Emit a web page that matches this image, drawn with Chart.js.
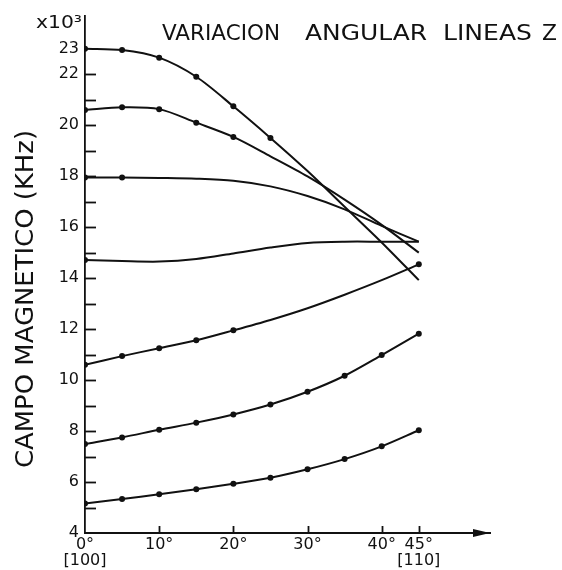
<!DOCTYPE html>
<html>
<head>
<meta charset="utf-8">
<script src="https://cdn.jsdelivr.net/npm/chart.js@4.4.1/dist/chart.umd.min.js"></script>
<style>
  html, body { margin: 0; padding: 0; background: #fff; }
  canvas { display: block; }
</style>
</head>
<body>
<canvas id="chart" width="562" height="570"></canvas>
<script>
// Rotation angle from [100] towards [110], degrees
const angles = [0, 5, 10, 15, 20, 25, 30, 35, 40, 45];

// Resonance field of each Z line (x10^3)
const line1 = [23.0, 22.95, 22.65, 21.9, 20.74, 19.5, 18.2, 16.8, 15.4, 13.92];
const line2 = [20.6, 20.7, 20.63, 20.1, 19.54, 18.78, 17.99, 17.08, 16.09, 15.0];
const line3 = [17.95, 17.95, 17.93, 17.9, 17.82, 17.6, 17.22, 16.7, 16.05, 15.43];
const line4 = [14.71, 14.67, 14.65, 14.75, 14.97, 15.2, 15.38, 15.43, 15.43, 15.43];
const line5 = [10.6, 10.94, 11.25, 11.56, 11.95, 12.36, 12.82, 13.35, 13.92, 14.54];
const line6 = [7.49, 7.75, 8.05, 8.33, 8.65, 9.04, 9.54, 10.17, 10.98, 11.82];
const line7 = [5.16, 5.33, 5.52, 5.72, 5.93, 6.17, 6.5, 6.9, 7.4, 8.03];

// Angles at which each line has a measured point
const measured1 = [0, 5, 10, 15, 20, 25];
const measured2 = [0, 5, 10, 15, 20];
const measured3 = [0, 5];
const measured4 = [0];
const measured5 = [0, 5, 10, 15, 20, 45];
const measured6 = [0, 5, 10, 15, 20, 25, 30, 35, 40, 45];
const measured7 = [0, 5, 10, 15, 20, 25, 30, 35, 40, 45];

// Axis ticks
const xTickValues = [0, 10, 20, 30, 40, 45];
const xTickLabels = [['0°', '[100]'], '10°', '20°', '30°', '40°', ['45°', '[110]']];
const yTickValues = [4, 6, 8, 10, 12, 14, 16, 18, 20, 22, 23];
const yMinorTicks = [5, 6, 7, 8, 9, 10, 11, 12, 13, 14, 15, 16, 17, 18, 19, 20, 21, 22];

const chartTitleWords = ['VARIACION', 'ANGULAR', 'LINEAS', 'Z'];
const yAxisTitle = 'CAMPO MAGNETICO (KHz)';
const multiplierLabel = 'x10³';

const INK = '#111';
const FONT = '"DejaVu Sans", "Liberation Sans", sans-serif';

const lines = [line1, line2, line3, line4, line5, line6, line7];
const measured = [measured1, measured2, measured3, measured4, measured5, measured6, measured7];

const datasets = lines.map((vals, i) => ({
  label: 'Z' + (i + 1),
  data: angles.map((a, k) => ({ x: a, y: vals[k] })),
  borderColor: INK,
  backgroundColor: INK,
  borderWidth: 2,
  tension: 0.3,
  pointRadius: ctx => measured[i].includes(angles[ctx.dataIndex]) ? 3 : 0,
  pointBorderWidth: 0,
  pointBackgroundColor: INK,
  fill: false
}));

// Text squeezed or stretched horizontally to span a given width
function fittedText(ctx, text, x, y, width, font) {
  ctx.save();
  ctx.font = font;
  const w = ctx.measureText(text).width;
  ctx.translate(x, y);
  ctx.scale(width / w, 1);
  ctx.textAlign = 'left';
  ctx.fillText(text, 0, 0);
  ctx.restore();
}

const decorations = {
  id: 'decorations',
  afterDraw(chart) {
    const { ctx, scales: { x, y } } = chart;
    ctx.save();
    ctx.strokeStyle = INK;
    ctx.fillStyle = INK;
    ctx.lineCap = 'butt';

    // inward tick marks on the field axis
    ctx.lineWidth = 1.8;
    yMinorTicks.forEach(v => {
      const py = Math.round(y.getPixelForValue(v)) + 0.5;
      ctx.beginPath();
      ctx.moveTo(x.left, py);
      ctx.lineTo(x.left + 11, py);
      ctx.stroke();
    });

    // upward tick marks on the angle axis
    xTickValues.slice(1).forEach(v => {
      const px = Math.round(x.getPixelForValue(v)) + 0.5;
      ctx.beginPath();
      ctx.moveTo(px, y.bottom);
      ctx.lineTo(px, y.bottom - 7);
      ctx.stroke();
    });

    // arrow head at the end of the angle axis
    const ax = x.right, ay = y.bottom;
    ctx.beginPath();
    ctx.moveTo(ax, ay);
    ctx.lineTo(ax - 17, ay - 4);
    ctx.lineTo(ax - 17, ay + 4);
    ctx.closePath();
    ctx.fill();

    // multiplier
    ctx.textBaseline = 'alphabetic';
    fittedText(ctx, multiplierLabel, 36, 28, 46, '17px ' + FONT);

    // chart title, word by word
    const spans = [[162, 280], [305, 427], [443, 532], [542, 557]];
    chartTitleWords.forEach((w, i) => {
      fittedText(ctx, w, spans[i][0], 40, spans[i][1] - spans[i][0], '21px ' + FONT);
    });

    // rotated field axis title
    ctx.save();
    ctx.translate(33, 468);
    ctx.rotate(-Math.PI / 2);
    fittedText(ctx, yAxisTitle, 0, 0, 338, '24px ' + FONT);
    ctx.restore();

    ctx.restore();
  }
};

new Chart(document.getElementById('chart'), {
  type: 'line',
  data: { datasets },
  plugins: [decorations],
  options: {
    responsive: false,
    animation: false,
    devicePixelRatio: 1,
    layout: { padding: { top: 9, right: 72, bottom: 0, left: 0 } },
    plugins: { legend: { display: false }, tooltip: { enabled: false }, title: { display: false } },
    scales: {
      x: {
        type: 'linear',
        min: 0,
        max: 54.6,
        afterFit: s => { s.height = 37; },
        afterBuildTicks: s => { s.ticks = xTickValues.map(v => ({ value: v })); },
        grid: { display: false, drawTicks: false },
        border: { display: true, color: INK, width: 2 },
        ticks: {
          autoSkip: false,
          maxRotation: 0,
          padding: 4,
          color: INK,
          font: { family: FONT, size: 16, lineHeight: 0.98 },
          callback: (v) => xTickLabels[xTickValues.indexOf(v)]
        }
      },
      y: {
        type: 'linear',
        min: 4,
        max: 24.3,
        afterFit: s => { s.width = 85; },
        afterBuildTicks: s => { s.ticks = yTickValues.map(v => ({ value: v })); },
        grid: { display: false, drawTicks: false },
        border: { display: true, color: INK, width: 1.8, dash: [6, 2, 1.5, 2] },
        ticks: {
          padding: 6,
          color: INK,
          font: { family: FONT, size: 16 },
          callback: v => String(v)
        }
      }
    }
  }
});
</script>
</body>
</html>
